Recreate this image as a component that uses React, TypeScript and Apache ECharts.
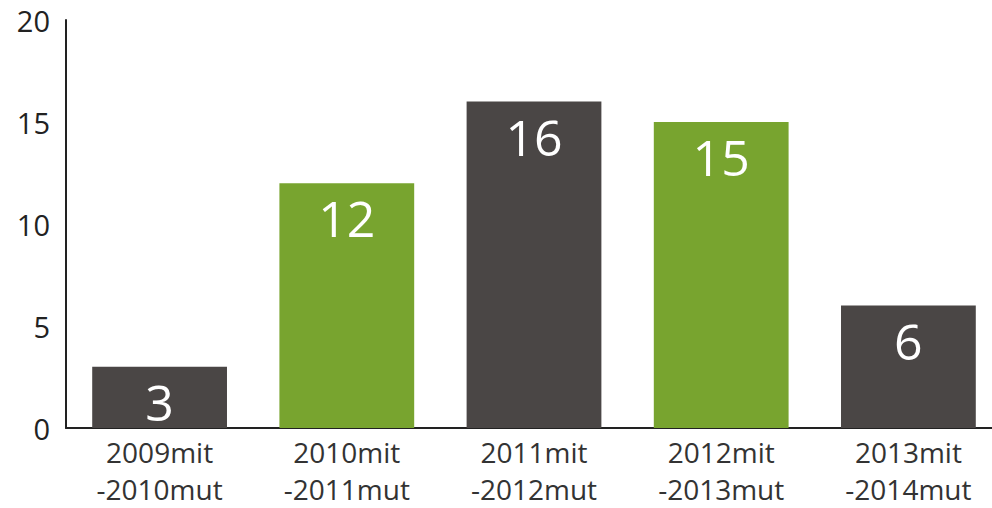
import React, { useEffect, useRef } from "react";
import * as echarts from "echarts";

const categories = ["2009mit\n-2010mut", "2010mit\n-2011mut", "2011mit\n-2012mut", "2012mit\n-2013mut", "2013mit\n-2014mut"];
const values = [3, 12, 16, 15, 6];
const barColors = ["#4a4645", "#78a42f", "#4a4645", "#78a42f", "#4a4645"];
const yTicks = { min: 0, max: 20, interval: 5 };

export default function App() {
  const ref = useRef<HTMLDivElement>(null);
  useEffect(() => {
    document.body.style.margin = "0";
    const chart = echarts.init(ref.current!, undefined, { renderer: "svg" });
    const font = "'Open Sans', 'Noto Sans', sans-serif";
    chart.setOption({
      animation: false,
      grid: { left: 66, top: 20, width: 936, height: 408, containLabel: false, outerBoundsMode: "none" },
      xAxis: {
        type: "category",
        data: categories,
        axisLine: { show: true, lineStyle: { color: "#222", width: 2 } },
        axisTick: { show: false },
        axisLabel: { color: "#333", fontSize: 28, fontFamily: font, lineHeight: 37, margin: 5, interval: 0 },
      },
      yAxis: {
        type: "value",
        min: yTicks.min,
        max: yTicks.max,
        interval: yTicks.interval,
        splitLine: { show: false },
        axisLine: { show: true, lineStyle: { color: "#222", width: 2 } },
        axisTick: { show: false },
        axisLabel: { color: "#222", fontSize: 29, fontFamily: font, margin: 16 },
      },
      series: [
        {
          type: "bar",
          data: values.map((v, i) => ({ value: v, itemStyle: { color: barColors[i] } })),
          barWidth: "72%",
          label: {
            show: true,
            position: "insideTop",
            distance: 10,
            color: "#fff",
            fontSize: 50,
            fontFamily: font,
          },
        },
      ],
    });
    return () => chart.dispose();
  }, []);
  return <div ref={ref} style={{ width: 992, height: 508 }} />;
}
